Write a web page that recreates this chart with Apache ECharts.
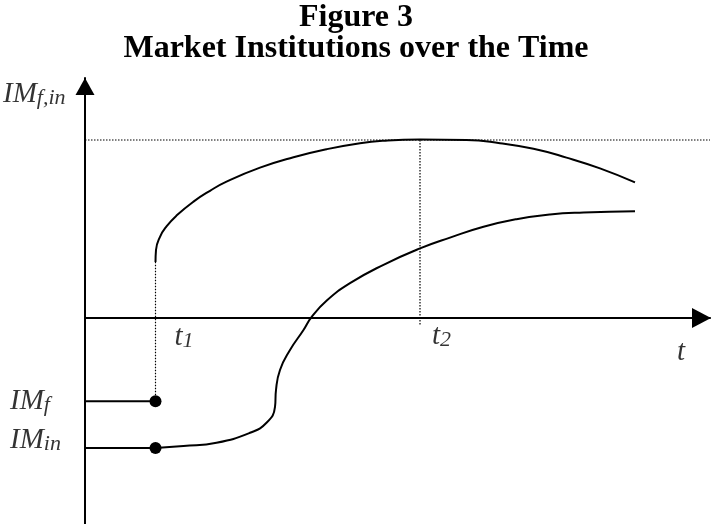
<!DOCTYPE html>
<html>
<head>
<meta charset="utf-8">
<script src="https://cdn.jsdelivr.net/npm/echarts@6/dist/echarts.min.js"></script>
<style>
html,body{margin:0;padding:0;background:#fff;}
#chart{width:712px;height:524px;}
</style>
</head>
<body>
<div id="chart"></div>
<script>
// ---- data (schematic units) ----
const titleLines = ['Figure 3', 'Market Institutions over the Time'];
const fT   = [1.41, 1.42, 1.50, 1.63, 1.83, 2.17, 2.50, 2.83, 3.50, 4.17, 4.83, 5.50, 5.97, 6.70, 7.63, 8.30, 8.97, 9.63, 10.30, 11.00];
const fVal = [1.40, 1.70, 2.03, 2.29, 2.56, 2.91, 3.18, 3.41, 3.76, 4.02, 4.22, 4.37, 4.43, 4.46, 4.45, 4.37, 4.23, 4.01, 3.74, 3.39];
const inT   = [1.41, 1.97, 2.63, 3.30, 3.63, 3.80, 3.82, 3.90, 4.10, 4.37, 4.53, 4.83, 5.30, 5.97, 6.70, 7.30, 7.97, 8.63, 9.30, 9.97, 11.00];
const inVal = [-3.25, -3.20, -3.12, -2.87, -2.62, -2.22, -1.80, -1.30, -0.80, -0.30, 0.02, 0.43, 0.87, 1.33, 1.74, 2.01, 2.28, 2.47, 2.59, 2.64, 2.67];
const t1 = 1.41;
const t2 = 6.70;
const imF0 = -2.08;      // initial level IM_f
const imIn0 = -3.25;     // initial level IM_in
const peakLevel = 4.45;  // maximum level (dotted line)
const t2Bottom = -0.18;
const xMin = 0, xMax = 12.5;
const yMin = -5.15, yMax = 6;
const labelTexts = {
  yName: '{m|IM}{s|f,in}',
  imf: '{m|IM}{s|f}',
  imin: '{m|IM}{s|in}',
  t1: '{m|t}{s|1}',
  t2: '{m|t}{s|2}',
  t: '{m|t}'
};

// ---- chart ----
const serif = 'Liberation Serif, Times New Roman, serif';
const rich = {
  m: {fontFamily: serif, fontStyle: 'italic', fontSize: 29, lineHeight: 30, color: '#000'},
  s: {fontFamily: serif, fontStyle: 'italic', fontSize: 22, lineHeight: 16, verticalAlign: 'bottom', color: '#000'}
};
function pair(xs, ys) { return xs.map((x, i) => [x, ys[i]]); }
function labelPoint(x, y, key, dx, dy) {
  return {
    value: [x, y],
    label: {show: true, formatter: labelTexts[key], position: [dx, dy], align: 'left', verticalAlign: 'middle', rich: rich}
  };
}
const dotted = {color: '#000', width: 1.2, type: [1.5, 1.5]};

const chart = echarts.init(document.getElementById('chart'), null, {renderer: 'canvas'});
chart.setOption({
  animation: false,
  backgroundColor: '#fff',
  title: {
    text: titleLines.join('\n'),
    left: 'center',
    top: -3,
    textStyle: {fontFamily: serif, fontWeight: 'bold', fontSize: 32, lineHeight: 31, color: '#000'}
  },
  grid: {left: 85, right: 2, top: 78, bottom: 0},
  xAxis: {
    type: 'value', min: xMin, max: xMax,
    axisLine: {show: true, onZero: true, symbol: ['none', 'triangle'], symbolSize: [20, 19], symbolOffset: [0, -8.5],
      lineStyle: {color: '#000', width: 2}},
    axisTick: {show: false}, axisLabel: {show: false}, splitLine: {show: false}
  },
  yAxis: {
    type: 'value', min: yMin, max: yMax,
    axisLine: {show: true, onZero: true, symbol: ['none', 'triangle'], symbolSize: [19, 17], symbolOffset: [0, -8.5],
      lineStyle: {color: '#000', width: 2}},
    axisTick: {show: false}, axisLabel: {show: false}, splitLine: {show: false}
  },
  series: [
    {type: 'line', data: [[xMin, peakLevel], [xMax, peakLevel]], symbol: 'none', lineStyle: dotted, z: 1, silent: true},
    {type: 'line', data: [[t1, imF0], [t1, fVal[0]]], symbol: 'none', lineStyle: dotted, z: 1, silent: true},
    {type: 'line', data: [[t2, peakLevel], [t2, t2Bottom]], symbol: 'none', lineStyle: dotted, z: 1, silent: true},
    {type: 'line', data: pair(fT, fVal), smooth: 0.5, symbol: 'none', lineStyle: {color: '#000', width: 2}, z: 3, silent: true},
    {type: 'line', data: pair(inT, inVal), smooth: 0.5, symbol: 'none', lineStyle: {color: '#000', width: 2}, z: 3, silent: true},
    {type: 'line', data: [[xMin, imF0], {value: [t1, imF0], symbol: 'circle'}], symbol: 'none', symbolSize: 12, showSymbol: true,
      itemStyle: {color: '#000'}, lineStyle: {color: '#000', width: 2}, z: 4, silent: true},
    {type: 'line', data: [[xMin, imIn0], {value: [t1, imIn0], symbol: 'circle'}], symbol: 'none', symbolSize: 12, showSymbol: true,
      itemStyle: {color: '#000'}, lineStyle: {color: '#000', width: 2}, z: 4, silent: true},
    {type: 'scatter', symbolSize: 0, clip: false, silent: true, z: 5,
      data: [
        labelPoint(xMin, yMax, 'yName', -82, 16),
        labelPoint(xMin, imF0, 'imf', -75, 0),
        labelPoint(xMin, imIn0, 'imin', -75, -8),
        labelPoint(t1, 0, 't1', 19, 19),
        labelPoint(t2, 0, 't2', 12, 18),
        labelPoint(xMax, 0, 't', -33, 34)
      ]}
  ]
});
</script>
</body>
</html>
